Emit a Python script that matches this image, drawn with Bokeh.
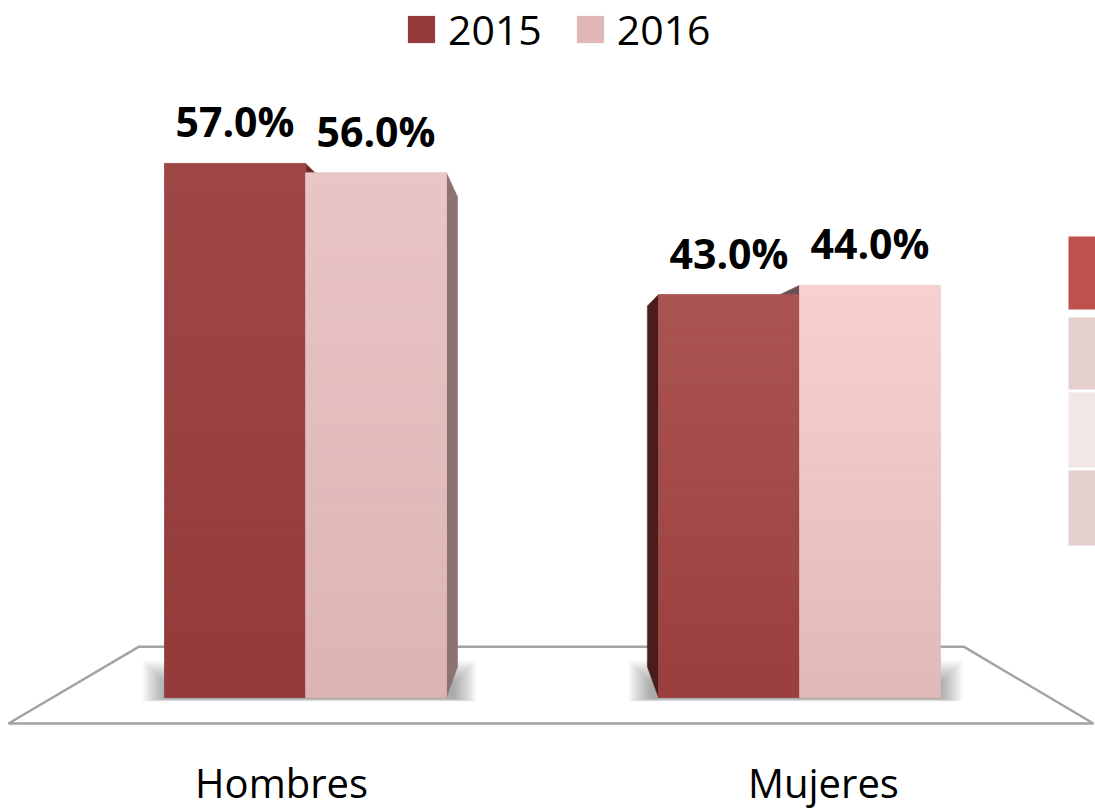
import numpy as np
from bokeh.plotting import figure
from bokeh.models import Range1d, ColumnDataSource, Legend, LegendItem
from bokeh.core.properties import value
from bokeh.embed import file_html
from bokeh.resources import INLINE

# ---------------- data ----------------
categories = ["Hombres", "Mujeres"]
years = ["2015", "2016"]
values_2015 = [57.0, 43.0]
values_2016 = [56.0, 44.0]
labels_2015 = ["57.0%", "43.0%"]
labels_2016 = ["56.0%", "44.0%"]

# ---------------- layout / style ----------------
W, H = 1095, 809
PX_X = 494.0       # px per category unit
PX_Y = 9.37        # px per percent point
X0_SCREEN = 305.0  # screen x of category 0
Y0_SCREEN = 697.0  # screen y of 0 %


def dx(px):
    return (px - X0_SCREEN) / PX_X


def dy(py):
    return (Y0_SCREEN - py) / PX_Y


BAR_W = 141.0 / PX_X
VX, VY = 0.5, dy(403)      # vanishing point
K_BAR = 0.105               # bar depth factor
K_FLOOR = 0.24              # floor depth factor
FONT = "Open Sans"

COL_2015 = "#953b3b"
COL_2016 = "#e0b6b6"
grad = {
    (0, 0): ("#943a3a", "#9f4747"),
    (0, 1): ("#dcb4b4", "#eac5c5"),
    (1, 0): ("#9a3f3f", "#ab5454"),
    (1, 1): ("#e2b9b9", "#f7d1d0"),
}
side_col = {
    (0, 0): "#6b2b2b",
    (0, 1): "#8c7373",
    (1, 0): "#4a1d1d",
    (1, 1): "#6b5151",
}

p = figure(width=W, height=H,
           x_range=Range1d(dx(0), dx(W)),
           y_range=Range1d(dy(H), dy(0)),
           output_backend="svg", toolbar_location=None,
           x_axis_location=None, y_axis_location=None,
           min_border=0, tools="")
p.grid.visible = False
p.outline_line_color = None
p.background_fill_color = "white"
p.border_fill_color = "white"


def back(x, y, k):
    return x + k * (VX - x), y + k * (VY - y)


# ---------------- floor ----------------
fy = dy(723)
fl_l, fl_r = dx(8), dx(1093)
bl = back(fl_l, fy, K_FLOOR)
br = back(fl_r, fy, K_FLOOR)
p.patch([fl_l, fl_r, br[0], bl[0]], [fy, fy, br[1], bl[1]],
        fill_color="white", line_color="#a3a3a3", line_width=2.5)

# ---------------- shadows ----------------
n_layers = 16
for c in range(len(categories)):
    left = c - BAR_W
    right = c + BAR_W
    pad_l = (22.0 if c < VX else 30.0) / PX_X
    pad_r = (30.0 if c < VX else 22.0) / PX_X
    xs0, xs1 = left - pad_l, right + pad_r
    ys0, ys1 = dy(701), dy(660)
    for i in range(n_layers):
        ix = i * 1.5 / PX_X
        iy = i * 1.5 / PX_Y
        p.quad(left=[xs0 + ix], right=[xs1 - ix], bottom=[ys0 + iy * 0.12], top=[ys1 - iy],
               fill_color="#303030", fill_alpha=0.028, line_color=None)

# ---------------- bars ----------------
series = [values_2015, values_2016]
# side faces first
for c in range(len(categories)):
    for s in range(2):
        v = series[s][c]
        x_left = c - BAR_W + s * BAR_W
        x_right = x_left + BAR_W
        xe = x_right if c < VX else x_left
        b0 = back(xe, 0.0, K_BAR)
        b1 = back(xe, v, K_BAR)
        p.patch([xe, xe, b1[0], b0[0]], [0.0, v, b1[1], b0[1]],
                fill_color=side_col[(c, s)], line_color=side_col[(c, s)], line_width=0.5)

# front faces (base quads used for the legend)
xc = np.arange(len(categories), dtype=float)
src15 = ColumnDataSource(dict(left=xc - BAR_W, right=xc, top=values_2015, bottom=[0.0] * 2))
src16 = ColumnDataSource(dict(left=xc, right=xc + BAR_W, top=values_2016, bottom=[0.0] * 2))
r15 = p.quad(left="left", right="right", top="top", bottom="bottom", source=src15,
             fill_color=COL_2015, line_color=None)
r16 = p.quad(left="left", right="right", top="top", bottom="bottom", source=src16,
             fill_color=COL_2016, line_color=None)


def hex2rgb(h):
    h = h.lstrip("#")
    return np.array([int(h[i:i + 2], 16) for i in (0, 2, 4)], dtype=float)


N = 40
for c in range(len(categories)):
    for s in range(2):
        v = series[s][c]
        x_left = c - BAR_W + s * BAR_W
        cb, ct = hex2rgb(grad[(c, s)][0]), hex2rgb(grad[(c, s)][1])
        edges = np.linspace(0.0, v, N + 1)
        cols = []
        for i in range(N):
            t = (i + 0.5) / N
            rgb = cb + (ct - cb) * t
            cols.append("#%02x%02x%02x" % tuple(int(round(u)) for u in rgb))
        p.quad(left=[x_left] * N, right=[x_left + BAR_W] * N,
               bottom=list(edges[:-1]), top=list(edges[1:]),
               fill_color=cols, line_color=cols, line_width=0.6)

# ---------------- value labels ----------------
p.text(x=list(xc - BAR_W / 2), y=values_2015, text=labels_2015,
       text_font=value(FONT), text_font_style="bold", text_font_size="41px",
       text_align="center", text_baseline="alphabetic", y_offset=-42, text_color="black")
p.text(x=list(xc + BAR_W / 2), y=values_2016, text=labels_2016,
       text_font=value(FONT), text_font_style="bold", text_font_size="41px",
       text_align="center", text_baseline="alphabetic", y_offset=-42, text_color="black")

# ---------------- category labels ----------------
M_LAB = 0.097
cat_x = [c + M_LAB * (c - VX) for c in xc]
p.text(x=cat_x, y=[dy(798)] * len(categories), text=categories,
       text_font=value(FONT), text_font_size="40px",
       text_align="center", text_baseline="alphabetic", y_offset=-16, text_color="black")

# ---------------- right-side decoration ----------------
deco_bands = [(236, 309, "#c0504d"), (317, 389, "#e6cfcf"), (392, 467, "#f2e6e6"), (470, 545, "#e6cfcf")]
for y0, y1, col in deco_bands:
    p.quad(left=[dx(1068)], right=[dx(1096)], top=[dy(y0)], bottom=[dy(y1)],
           fill_color=col, line_color=None)

# ---------------- legend ----------------
legend = Legend(items=[LegendItem(label=years[0], renderers=[r15]),
                       LegendItem(label=years[1], renderers=[r16])],
                orientation="horizontal", location=(404, 752),
                glyph_width=34, glyph_height=34, label_standoff=10, spacing=31,
                padding=0, margin=0, border_line_alpha=0, background_fill_alpha=0,
                label_text_font=FONT, label_text_font_size="41px", label_text_color="black")
p.add_layout(legend)

open("out.html", "w").write(file_html(p, INLINE))
